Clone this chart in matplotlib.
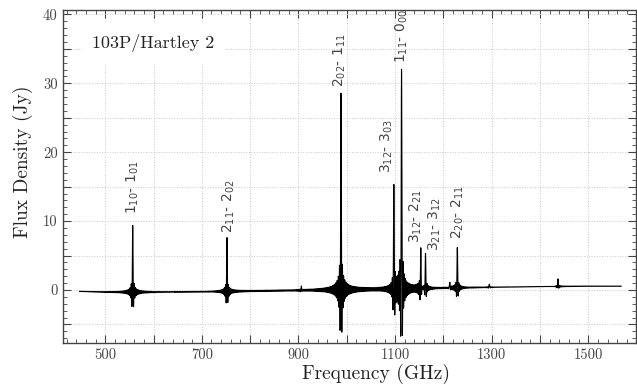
import numpy as np
import matplotlib
matplotlib.use("Agg")
import matplotlib.pyplot as plt
from matplotlib.ticker import MultipleLocator, FuncFormatter

# Raies de l'eau : fréquence (GHz) et flux du pic (Jy)
line_freq = [556.94, 752.03, 987.93, 1097.37, 1113.34, 1153.13, 1162.91, 1228.79,
             906.0, 1213.0, 1295.0, 1437.0]
line_peak = [9.9, 7.8, 28.5, 15.8, 32.2, 6.0, 5.2, 5.8,
             0.5, 0.9, 0.5, 1.1]

# Ligne de base
base_freq = [447, 500, 600, 700, 800, 900, 1000, 1100, 1200, 1300, 1400, 1500, 1568]
base_flux = [-0.2, -0.3, -0.3, -0.25, -0.15, -0.05, 0.05, 0.15, 0.3, 0.4, 0.5, 0.55, 0.55]

# Étiquettes des transitions : texte, position x (GHz), bas du texte (Jy)
lab_text = [r"1$_{10}$- 1$_{01}$", r"2$_{11}$- 2$_{02}$", r"2$_{02}$- 1$_{11}$",
            r"3$_{12}$- 3$_{03}$", r"1$_{11}$- 0$_{00}$", r"3$_{12}$- 2$_{21}$",
            r"3$_{21}$- 3$_{12}$", r"2$_{20}$- 2$_{11}$"]
lab_x = [557, 756, 985, 1083, 1113, 1143, 1183, 1229]
lab_y = [11.0, 8.3, 29.5, 17.0, 33.0, 6.8, 5.6, 7.4]

# Spectre : profil instrumental en sinc autour de chaque raie
freq = np.arange(447.0, 1568.0, 0.3)
flux = np.interp(freq, base_freq, base_flux)
for f0, a in zip(line_freq, line_peak):
    flux += a * np.sinc((freq - f0) / 1.2)

plt.rcParams["font.family"] = ["cmr10", "DejaVu Serif"]
plt.rcParams["mathtext.fontset"] = "dejavusans"
plt.rcParams["axes.unicode_minus"] = False

fig = plt.figure(figsize=(6.37, 3.85), dpi=100)
ax = fig.add_axes([0.0984, 0.109, 0.8996, 0.866])

ax.plot(freq, flux, color="black", lw=0.8)

ax.set_xlim(412, 1598)
ax.set_ylim(-7.7, 40.7)

ax.xaxis.set_major_locator(MultipleLocator(100))
ax.xaxis.set_minor_locator(MultipleLocator(20))
ax.yaxis.set_major_locator(MultipleLocator(5))
ax.yaxis.set_minor_locator(MultipleLocator(1))
ax.xaxis.set_major_formatter(FuncFormatter(lambda v, p: f"{v:.0f}" if round(v) % 200 == 100 else ""))
ax.yaxis.set_major_formatter(FuncFormatter(lambda v, p: f"{v:.0f}" if round(v) % 10 == 0 else ""))

ax.tick_params(which="both", direction="in", top=True, right=True, colors="#444444", labelsize=10.5)
ax.tick_params(which="major", length=6, width=0.8)
ax.tick_params(which="minor", length=3, width=0.6)
for s in ax.spines.values():
    s.set_color("#444444")
    s.set_linewidth(1.0)

ax.grid(True, which="major", linestyle=":", color="#c8c8c8", lw=0.7)
ax.set_axisbelow(True)

ax.set_xlabel("Frequency (GHz)", fontsize=14, color="#222222")
ax.set_ylabel("Flux Density (Jy)", fontsize=14, color="#222222")
ax.xaxis.set_label_coords(0.546, -0.063)
ax.yaxis.set_label_coords(-0.052, 0.545)

ax.text(600, 35.9, "103P/Hartley 2", fontsize=13, ha="center", va="center", color="#222222",
        bbox=dict(boxstyle="square,pad=0.6", fc="white", ec="none"))

for t, x, y in zip(lab_text, lab_x, lab_y):
    ax.text(x, y, t, rotation=90, ha="center", va="bottom", fontsize=10,
            color="#444444", family="DejaVu Sans")

fig.savefig("out.png", dpi=100)
